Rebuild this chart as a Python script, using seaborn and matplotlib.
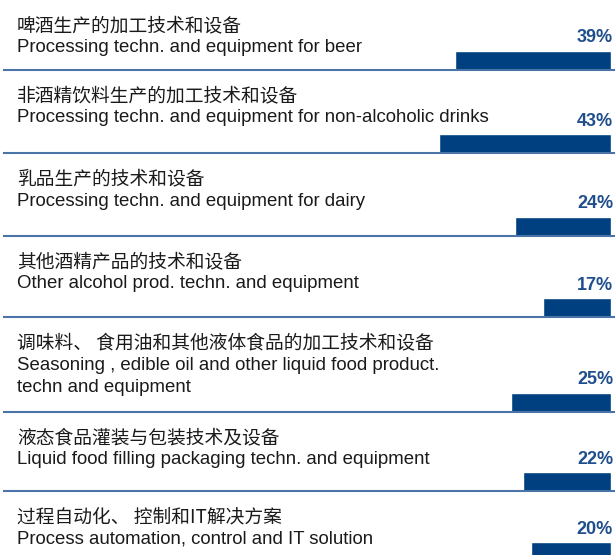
import matplotlib
matplotlib.use("Agg")
import matplotlib.pyplot as plt
import pandas as pd
import seaborn as sns

# survey shares per exhibit category (%)
labels_cn = [
    "啤酒生产的加工技术和设备",
    "非酒精饮料生产的加工技术和设备",
    "乳品生产的技术和设备",
    "其他酒精产品的技术和设备",
    "调味料、 食用油和其他液体食品的加工技术和设备",
    "液态食品灌装与包装技术及设备",
    "过程自动化、 控制和IT解决方案",
]
labels_en = [
    ["Processing techn. and equipment for beer"],
    ["Processing techn. and equipment for non-alcoholic drinks"],
    ["Processing techn. and equipment for dairy"],
    ["Other alcohol prod. techn. and equipment"],
    ["Seasoning , edible oil and other liquid food product.", "techn and equipment"],
    ["Liquid food filling packaging techn. and equipment"],
    ["Process automation, control and IT solution"],
]
shares = [39, 43, 24, 17, 25, 22, 20]

# layout (pixels)
W, H = 615, 555
row_px = [70, 83, 83, 81, 95, 79, 70]
px_per_pct = 4.0
bar_px = 19
bar_color = "#004080"
line_color = "#4a74a8"
pct_color = "#1f4e8c"
text_color = "#1a1a1a"

sns.set_theme(style="white")
plt.rcParams["font.family"] = ["Liberation Sans", "Noto Sans CJK SC"]

fig = plt.figure(figsize=(W / 100, H / 100), dpi=100)
top = 0
for cn, en, val, h in zip(labels_cn, labels_en, shares, row_px):
    ax = fig.add_axes([0, (H - top - h) / H, 1, h / H])
    df = pd.DataFrame({"share": [val], "row": [cn]})
    sns.barplot(data=df, x="share", y="row", orient="y", color=bar_color,
                saturation=1, width=0.8, ax=ax)
    unit = bar_px / 0.8
    ax.set_ylim(0.4, 0.4 - h / unit)
    ax.set_xlim((W - 4) / px_per_pct, -1)
    ax.set_xlabel("")
    ax.set_ylabel("")
    ax.set_xticks([])
    ax.set_yticks([])
    for side in ["top", "left", "right"]:
        ax.spines[side].set_visible(False)
    ax.spines["bottom"].set_color(line_color)
    ax.spines["bottom"].set_linewidth(1.5)
    ax.spines["bottom"].set_bounds(-1, (W - 4 - 4) / px_per_pct)
    ax.patch.set_alpha(0)

    ax.text(17 / W, 1 - 26 / h, cn, transform=ax.transAxes, ha="left", va="center",
            fontsize=13.5, color=text_color, family=["Noto Sans CJK SC", "Liberation Sans"])
    for k, line in enumerate(en):
        ax.text(17 / W, 1 - (48 + 22 * k) / h, line, transform=ax.transAxes,
                ha="left", va="center", fontsize=13.4, color=text_color)
    ax.text(-0.5, -0.4 - 13 / unit, f"{val}%", ha="right", va="center",
            fontsize=13, fontweight="bold", color=pct_color)
    top += h

fig.savefig("out.png", dpi=100)
